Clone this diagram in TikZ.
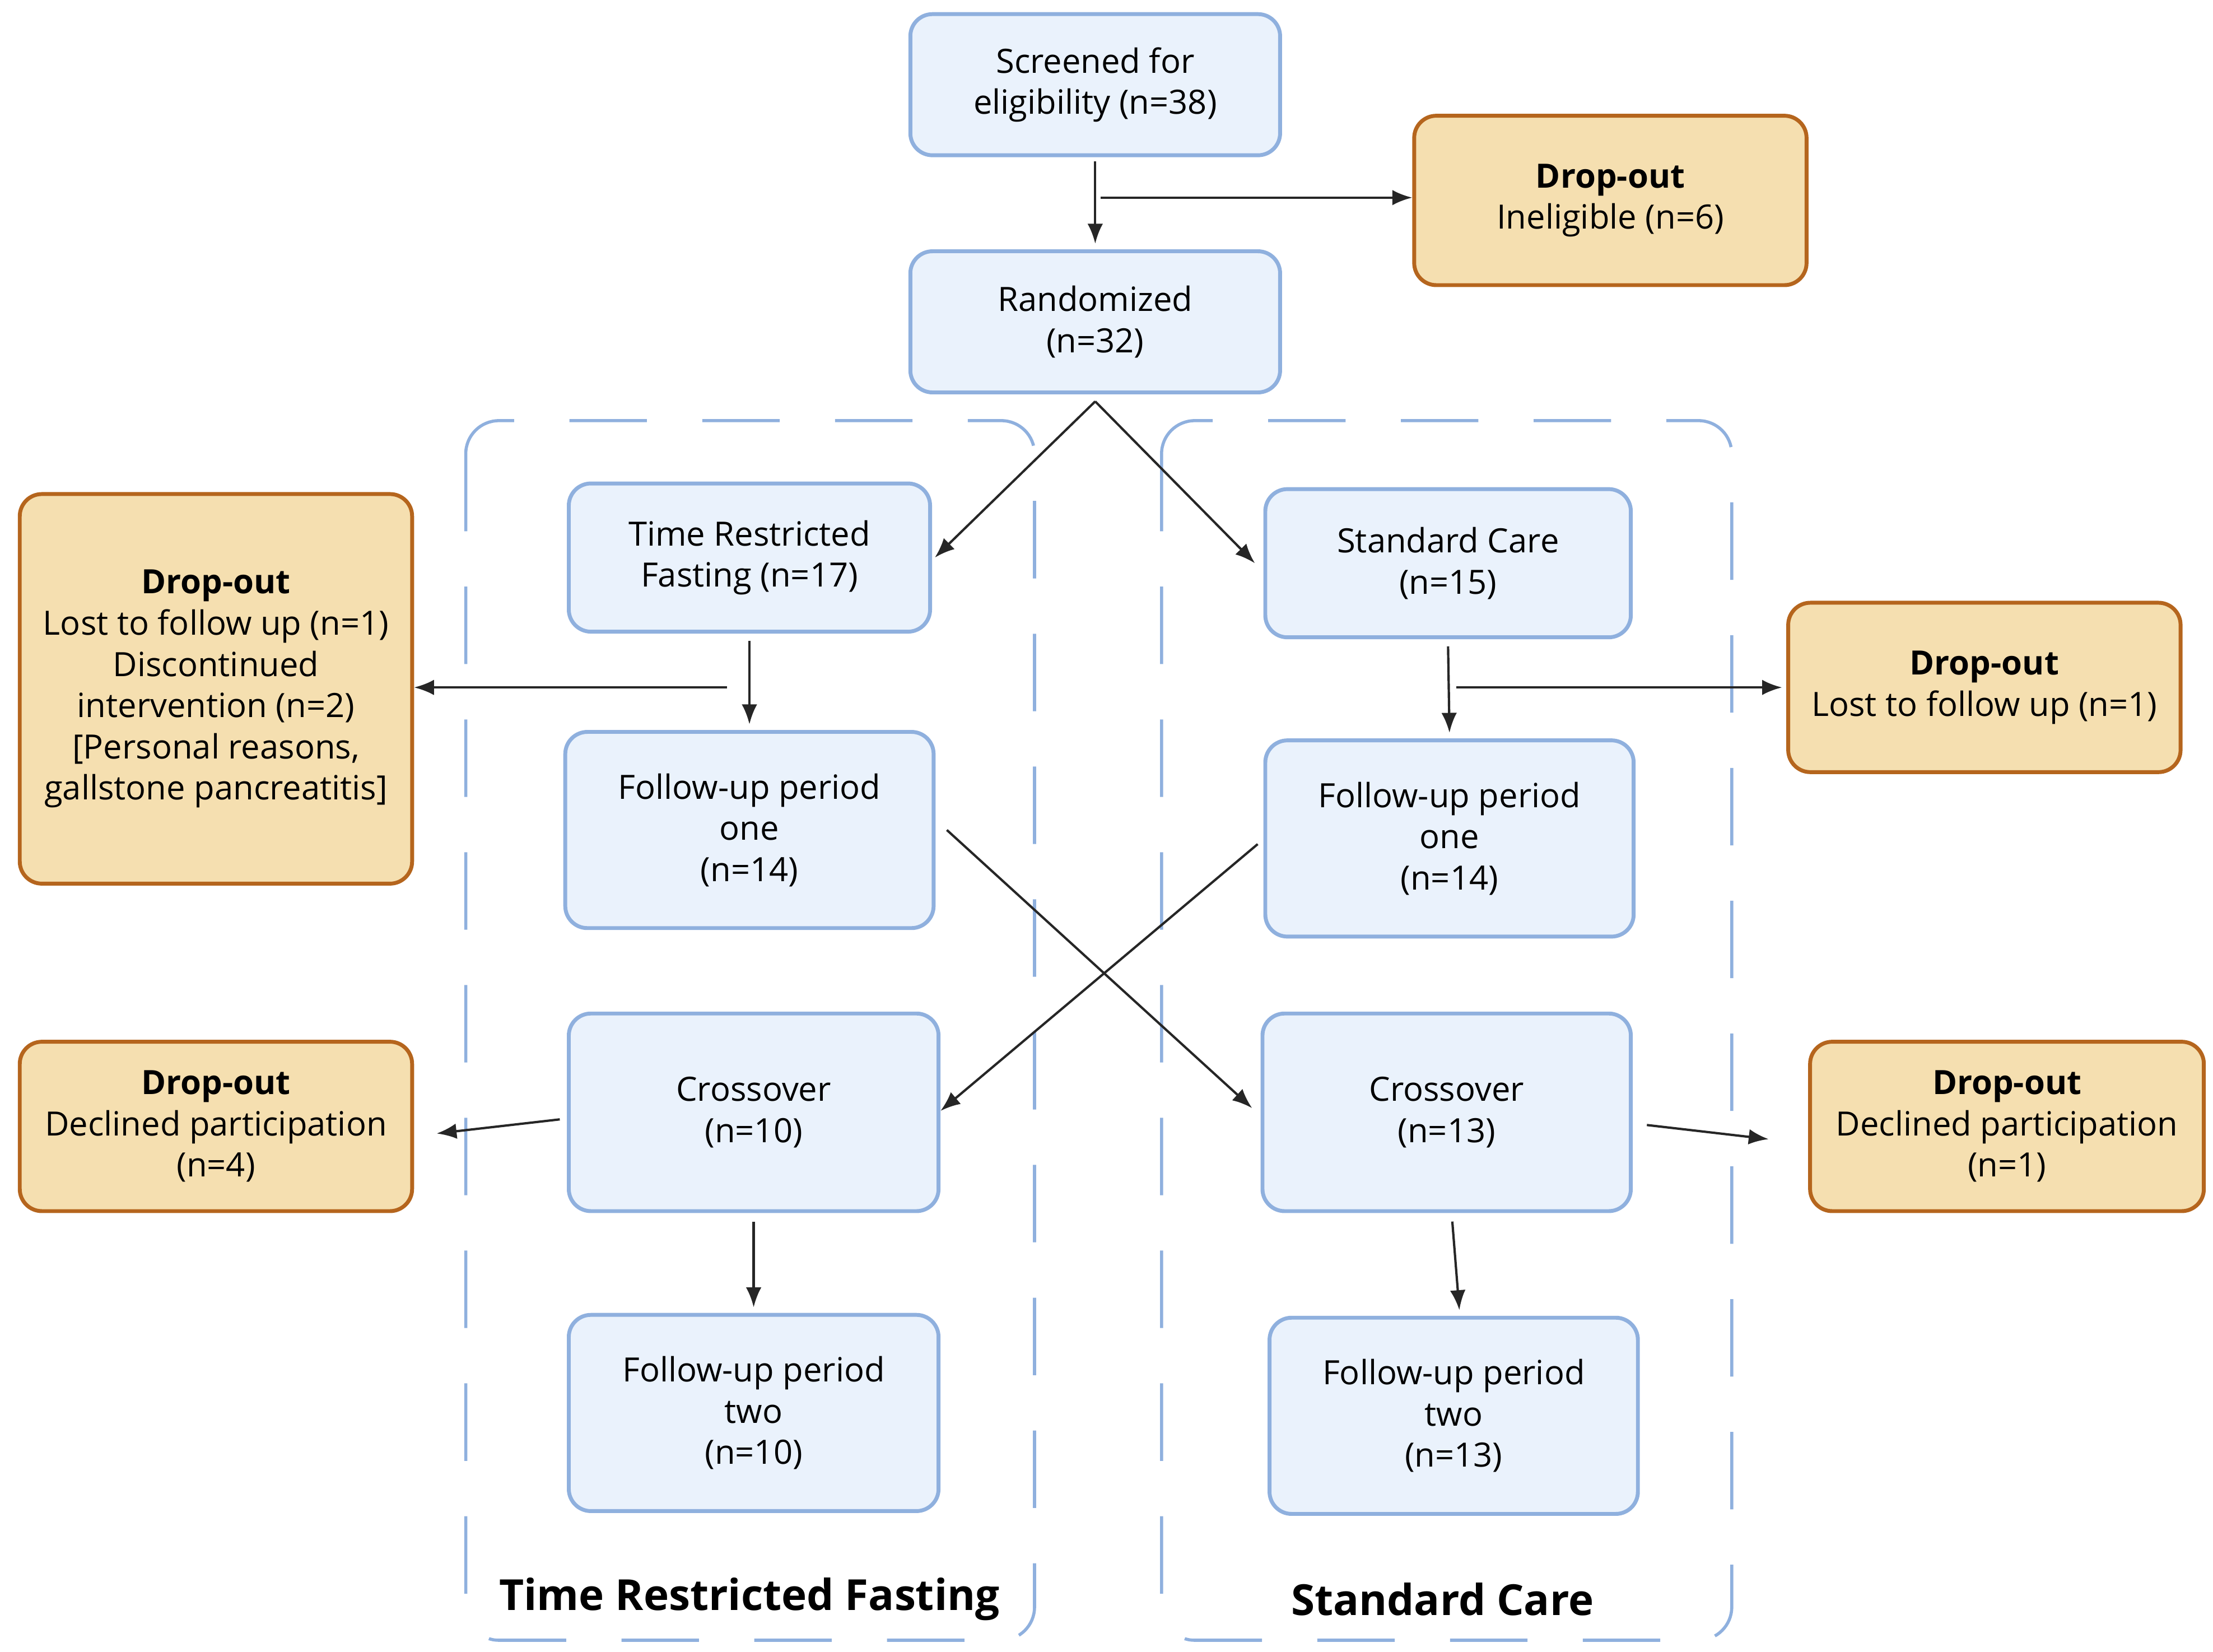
\documentclass[tikz,border=0pt]{standalone}
\usepackage{fontspec}
\setmainfont{Open Sans}
\usetikzlibrary{arrows.meta}
\definecolor{boxblue}{HTML}{EAF2FC}
\definecolor{lineblue}{HTML}{8FB0DE}
\definecolor{boxorange}{HTML}{F5DFB0}
\definecolor{lineorange}{HTML}{B5651D}
\newdimen\pxu \pxu=0.012755cm
\begin{document}
\begin{tikzpicture}[x=0.012755cm,y=-0.012755cm,
            every node/.style={font=\fontsize{8.6}{10.6}\selectfont, align=center, inner sep=0pt},
            stage/.style={draw=lineblue, fill=boxblue, line width=1pt, rounded corners=2mm},
            drop/.style={draw=lineorange, fill=boxorange, line width=1pt, rounded corners=2mm},
            arm/.style={draw=lineblue, line width=0.8pt, dash pattern=on 7mm off 5mm, rounded corners=3mm},
            flow/.style={-{Latex[length=1.8mm,width=1.4mm]}, line width=0.6pt, black!85}]
            \useasboundingbox (0,0) rectangle (1568,1170);
            % arms
            \draw[arm] (330,298) rectangle (733,1162);
            \draw[arm] (823,298) rectangle (1227,1162);
            \node[font=\fontsize{11}{13}\selectfont\bfseries] (trflab) at (531,1133) {Time Restricted Fasting};
            \node[font=\fontsize{11}{13}\selectfont\bfseries] (sclab) at (1022,1133) {Standard Care};
            % main stages
            \node[stage, minimum width=262\pxu, minimum height=100\pxu] (screen) at (776,60) {Screened for\\eligibility (n=38)};
            \node[stage, minimum width=262\pxu, minimum height=100\pxu] (rand) at (776,228) {Randomized\\(n=32)};
            \node[stage, minimum width=256\pxu, minimum height=105\pxu] (trf) at (531,395) {Time Restricted\\Fasting (n=17)};
            \node[stage, minimum width=259\pxu, minimum height=105\pxu] (sc) at (1026,399) {Standard Care\\(n=15)};
            \node[stage, minimum width=261\pxu, minimum height=139\pxu] (fuL) at (531,588) {Follow-up period\\one\\(n=14)};
            \node[stage, minimum width=261\pxu, minimum height=139\pxu] (fuR) at (1027,594) {Follow-up period\\one\\(n=14)};
            \node[stage, minimum width=262\pxu, minimum height=140\pxu] (crL) at (534,788) {Crossover\\(n=10)};
            \node[stage, minimum width=261\pxu, minimum height=140\pxu] (crR) at (1025,788) {Crossover\\(n=13)};
            \node[stage, minimum width=262\pxu, minimum height=139\pxu] (fuLL) at (534,1001) {Follow-up period\\two\\(n=10)};
            \node[stage, minimum width=261\pxu, minimum height=139\pxu] (fuRR) at (1030,1003) {Follow-up period\\two\\(n=13)};
            % drop-outs
            \node[drop, minimum width=278\pxu, minimum height=120\pxu] (dIn) at (1141,142) {\textbf{Drop-out}\\Ineligible (n=6)};
            \node[drop, minimum width=278\pxu, minimum height=276\pxu] (dL1) at (153,488) {\textbf{Drop-out}\\Lost to follow up (n=1)\\Discontinued\\intervention (n=2)\\{[Personal reasons,}\\gallstone pancreatitis]};
            \node[drop, minimum width=278\pxu, minimum height=120\pxu] (dR1) at (1406,487) {\textbf{Drop-out}\\Lost to follow up (n=1)};
            \node[drop, minimum width=278\pxu, minimum height=120\pxu] (dL2) at (153,798) {\textbf{Drop-out}\\Declined participation\\(n=4)};
            \node[drop, minimum width=279\pxu, minimum height=120\pxu] (dR2) at (1422,798) {\textbf{Drop-out}\\Declined participation\\(n=1)};
            \coordinate (c1) at (780,140);
            \coordinate (c2) at (515,487);
            \coordinate (c3) at (1032,487);
            % connectors
            \draw[flow] ([yshift=-3\pxu]screen.south) -- ([yshift=4\pxu]rand.north);
            \draw[flow] (c1) -- (dIn.west |- c1);
            \draw[flow] ([yshift=-5\pxu]rand.south) -- ([xshift=2\pxu]trf.east);
            \draw[flow] ([yshift=-5\pxu]rand.south) -- ([xshift=-6\pxu]sc.west);
            \draw[flow] ([yshift=-5\pxu]trf.south) -- ([yshift=4\pxu]fuL.north);
            \draw[flow] (c2) -- (dL1.east |- c2);
            \draw[flow] ([yshift=-5\pxu]sc.south) -- ([yshift=4\pxu]fuR.north);
            \draw[flow] (c3) -- ([xshift=-3\pxu]dR1.west |- c3);
            \draw[flow] ([xshift=8\pxu]fuL.east) -- ([xshift=-6\pxu,yshift=3\pxu]crR.west);
            \draw[flow] ([xshift=-4\pxu,yshift=-4\pxu]fuR.west) -- ([yshift=1\pxu]crL.east);
            \draw[flow] ([xshift=-5\pxu,yshift=-5\pxu]crL.west) -- ([xshift=16\pxu,yshift=-5\pxu]dL2.east);
            \draw[flow] ([xshift=10\pxu,yshift=-9\pxu]crR.east) -- ([xshift=-28\pxu,yshift=-9\pxu]dR2.west);
            \draw[flow] ([yshift=-6\pxu]crL.south) -- ([yshift=4\pxu]fuLL.north);
            \draw[flow] ([yshift=-6\pxu,xshift=4\pxu]crR.south) -- ([yshift=4\pxu,xshift=4\pxu]fuRR.north);
\end{tikzpicture}
\end{document}
